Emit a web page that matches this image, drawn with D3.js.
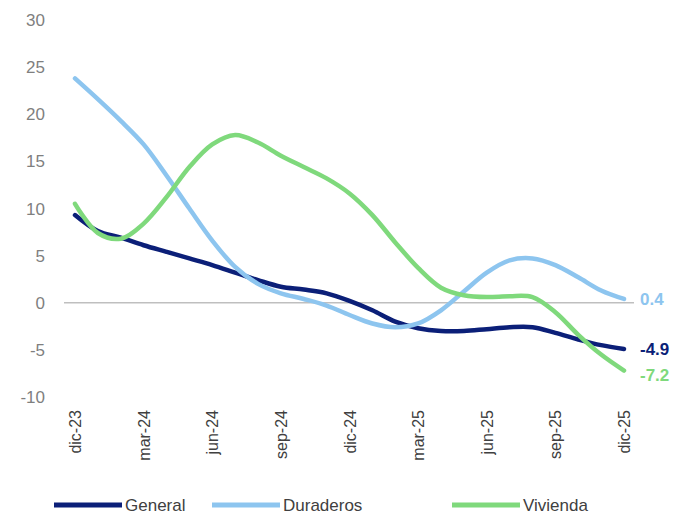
<!DOCTYPE html>
<html><head><meta charset="utf-8">
<script src="https://cdn.jsdelivr.net/npm/d3@7"></script>
<style>body{margin:0;background:#fff}text{font-family:"Liberation Sans",Arial,sans-serif}</style>
</head><body><svg id="c" width="683" height="514"></svg>
<script>
const months = ["dic-23","ene-24","feb-24","mar-24","abr-24","may-24","jun-24","jul-24","ago-24","sep-24","oct-24","nov-24","dic-24","ene-25","feb-25","mar-25","abr-25","may-25","jun-25","jul-25","ago-25","sep-25","oct-25","nov-25","dic-25"];
const general = [9.3,7.6,6.9,6.1,5.4,4.7,4.0,3.2,2.4,1.7,1.4,1.0,0.2,-0.8,-2.0,-2.7,-3.0,-3.0,-2.8,-2.6,-2.6,-3.2,-3.9,-4.5,-4.9];
const duraderos = [23.8,21.6,19.3,16.8,13.5,10,6.6,3.8,2.0,1.0,0.4,-0.3,-1.3,-2.2,-2.6,-2.2,-0.8,1.2,3.2,4.5,4.7,4.0,2.7,1.3,0.4];
const vivienda = [10.5,7.4,6.8,8.4,11.2,14.4,16.8,17.8,17.0,15.6,14.4,13.2,11.6,9.3,6.4,3.7,1.6,0.8,0.6,0.7,0.6,-1.0,-3.4,-5.5,-7.2];
const yTicks = [-10,-5,0,5,10,15,20,25,30];
const series = [
  {name:"General", values:general, color:"#0b1f78"},
  {name:"Duraderos", values:duraderos, color:"#8dc5ef"},
  {name:"Vivienda", values:vivienda, color:"#7fd97c"}
];

const svg = d3.select("#c");
const x = d3.scalePoint().domain(months).range([75, 624]);
const y = d3.scaleLinear().domain([-10, 30]).range([397, 20]);

svg.append("g").selectAll("text").data(yTicks).join("text")
  .attr("x", 45).attr("y", d => y(d) + 6).attr("text-anchor", "end")
  .attr("font-size", 17).attr("fill", "#7f7f7f").text(d => d);

svg.append("line").attr("x1", 64).attr("x2", 634).attr("y1", y(0)).attr("y2", y(0))
  .attr("stroke", "#bfbfbf").attr("stroke-width", 1.5);

svg.append("g").selectAll("text").data(months.filter((m, i) => i % 3 === 0)).join("text")
  .attr("transform", d => `translate(${x(d) + 6},410) rotate(-90)`)
  .attr("text-anchor", "end").attr("font-size", 16).attr("fill", "#404040").text(d => d);

const line = d3.line().x((d, i) => x(months[i])).y(d => y(d)).curve(d3.curveCatmullRom);
svg.append("g").selectAll("path").data(series).join("path")
  .attr("d", d => line(d.values)).attr("fill", "none")
  .attr("stroke", d => d.color).attr("stroke-width", 4.5).attr("stroke-linecap", "round");

series.forEach(s => {
  const v = s.values[s.values.length - 1];
  svg.append("text").attr("x", 640).attr("y", y(v) + 6 + (s.name === "Vivienda" ? 4 : 0))
    .attr("font-size", 17).attr("font-weight", "bold").attr("fill", s.color).text(v.toFixed(1));
});

const legendX = [54, 212, 452];
const lg = svg.append("g").selectAll("g").data(series).join("g")
  .attr("transform", (d, i) => `translate(${legendX[i]},505)`);
lg.append("line").attr("x1", 0).attr("x2", 68).attr("stroke", d => d.color).attr("stroke-width", 5);
lg.append("text").attr("x", 71).attr("y", 6).attr("font-size", 17).attr("fill", "#404040").text(d => d.name);
</script></body></html>
